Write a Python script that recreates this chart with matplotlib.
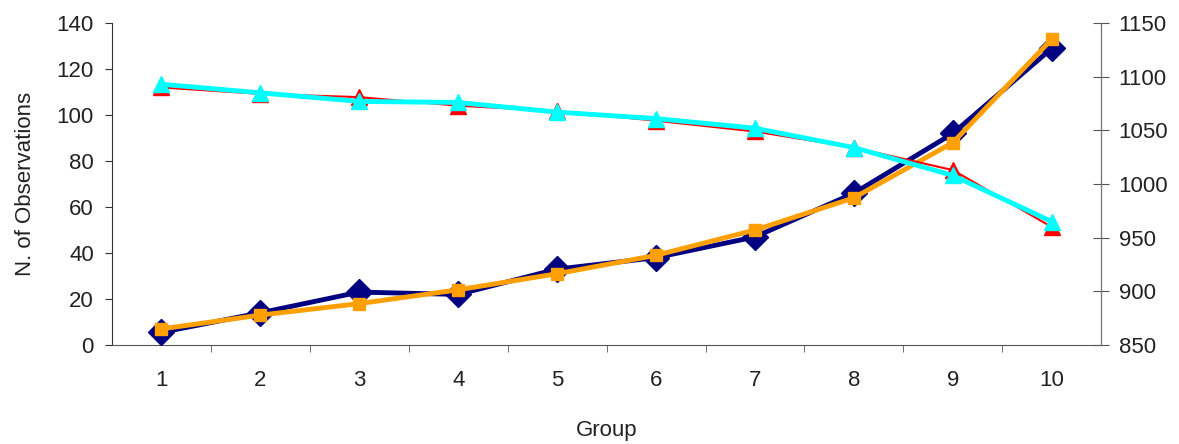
import matplotlib.pyplot as plt

plt.rcParams['font.family'] = ['Liberation Sans', 'DejaVu Sans']

groups = [1, 2, 3, 4, 5, 6, 7, 8, 9, 10]
navy_obs = [5.5, 14, 23, 22, 33, 38, 47, 66, 92, 129]
orange_obs = [7, 13, 18, 24, 31, 39, 50, 64, 88, 133]
red_right = [1090, 1084, 1081, 1073, 1068, 1059, 1049, 1034, 1013, 960]
cyan_right = [1093, 1085, 1077, 1076, 1067, 1061, 1052, 1034, 1008, 965]

fs = 16

fig, ax = plt.subplots(figsize=(11.79, 4.44), dpi=100)
fig.subplots_adjust(left=0.095, right=0.934, top=0.948, bottom=0.223)
ax2 = ax.twinx()

ax.plot(groups, navy_obs, color='#000080', marker='D', markersize=13, linewidth=3.5, zorder=3)
ax.plot(groups, orange_obs, color='#FFA000', marker='s', markersize=9, linewidth=3.5, zorder=4)
ax2.plot(groups, red_right, color='#FF0000', marker='^', markersize=11, linewidth=1.5, zorder=3)
ax2.plot(groups, cyan_right, color='#00FFFF', marker='^', markersize=11, linewidth=3.5, zorder=4)

ax.set_xlim(0.5, 10.5)
ax.set_ylim(0, 140)
ax2.set_ylim(850, 1150)
ax.set_yticks(range(0, 141, 20))
ax2.set_yticks(range(850, 1151, 50))

ax.set_xticks(groups)
ax.set_xticks([g + 0.5 for g in groups[:-1]], minor=True)
ax.tick_params(axis='x', which='major', length=0, pad=18, labelsize=fs, labelcolor='#222222')
ax.tick_params(axis='x', which='minor', length=5, direction='out', color='#555555')
ax.tick_params(axis='y', length=5, direction='out', pad=8, labelsize=fs, color='#333333', labelcolor='#222222')
ax2.tick_params(axis='y', length=11, direction='inout', pad=7, labelsize=fs, color='#555555', labelcolor='#222222')

for a in (ax, ax2):
    a.spines['top'].set_visible(False)
ax.spines['left'].set_color('#333333')
ax.spines['bottom'].set_color('#555555')
ax2.spines['right'].set_color('#777777')
ax2.spines['left'].set_visible(False)
ax2.spines['bottom'].set_visible(False)

ax.set_xlabel('Group', fontsize=fs, labelpad=21, color='#222222')
ax.set_ylabel('N. of Observations', fontsize=fs, labelpad=15, color='#222222')

fig.savefig('out.png', dpi=100)
